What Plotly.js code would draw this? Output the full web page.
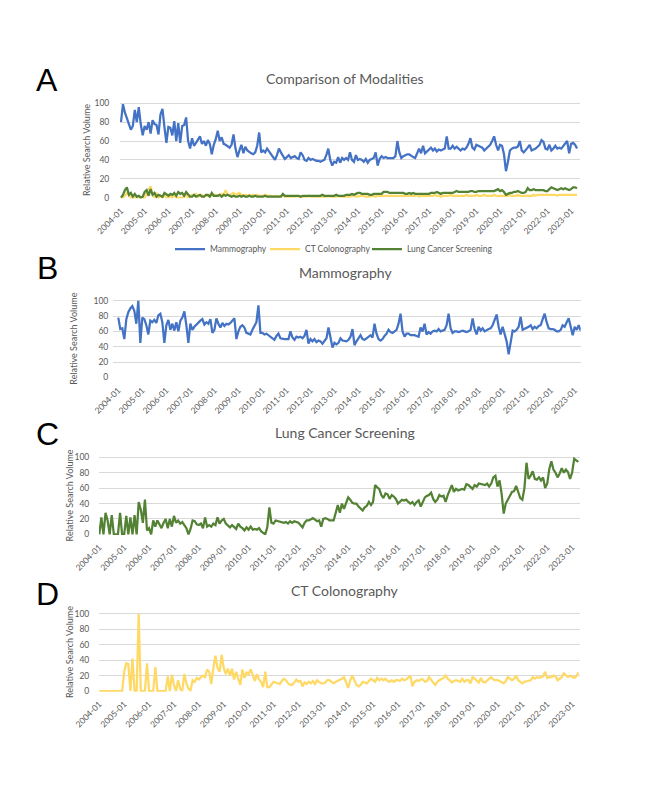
<!DOCTYPE html>
<html>
<head>
<meta charset="utf-8">
<script src="https://cdn.plot.ly/plotly-3.0.1.min.js"></script>
<style>
  html, body { margin: 0; padding: 0; background: #ffffff; }
  #chart { width: 666px; height: 799px; }
</style>
</head>
<body>
<div id="chart"></div>
<script>
// ---------------- DATA ----------------
const firstYear = 2004;
const nMonths = 232; // 2004-01 .. 2023-04

const tickLabels = ['2004-01','2005-01','2006-01','2007-01','2008-01','2009-01','2010-01',
  '2011-01','2012-01','2013-01','2014-01','2015-01','2016-01','2017-01','2018-01','2019-01',
  '2020-01','2021-01','2022-01','2023-01'];

const seriesNames = ['Mammography', 'CT Colonography', 'Lung Cancer Screening'];

// Panel A - Comparison of Modalities
const mammoA = [
  80, 99, 90, 84, 79, 72, 76, 93, 80, 96, 78, 66,
  76, 72, 80, 68, 82, 78, 77, 67, 88, 94, 75, 58,
  75, 74, 66, 81, 60, 79, 58, 76, 77, 85, 60, 52,
  63, 55, 58, 62, 65, 57, 60, 55, 61, 57, 46, 56,
  62, 71, 60, 64, 57, 56, 54, 53, 56, 67, 52, 43,
  50, 56, 47, 54, 50, 48, 47, 46, 48, 55, 69, 48,
  50, 48, 52, 49, 46, 44, 40, 45, 52, 48, 44, 41,
  43, 45, 42, 43, 44, 42, 41, 48, 45, 40, 39, 42,
  40, 41, 40, 39, 39, 38, 39, 40, 45, 52, 40, 34,
  38, 37, 43, 37, 42, 40, 42, 40, 48, 40, 38, 45,
  40, 41, 40, 38, 41, 37, 40, 41, 42, 48, 34, 41,
  44, 42, 43, 42, 42, 42, 42, 44, 60, 48, 42, 44,
  45, 46, 46, 44, 43, 42, 48, 52, 47, 55, 47, 49,
  52, 53, 50, 52, 49, 51, 50, 51, 52, 65, 52, 52,
  55, 52, 54, 52, 50, 52, 51, 53, 57, 63, 53, 51,
  56, 55, 54, 53, 50, 52, 55, 56, 60, 65, 56, 50,
  56, 55, 46, 28, 38, 50, 52, 53, 53, 54, 60, 50,
  48, 50, 53, 56, 50, 51, 52, 54, 56, 61, 59, 52,
  51, 56, 50, 52, 55, 52, 53, 52, 55, 58, 60, 47,
  57, 58, 56, 52
];
const ctA = [
  0, 0, 2, 5, 3, 0, 0, 0, 0, 0, 0, 0,
  0, 4, 8, 12, 3, 0, 5, 0, 2, 0, 3, 0,
  0, 2, 0, 3, 0, 0, 0, 0, 2, 3, 0, 2,
  3, 2, 4, 1, 2, 3, 1, 2, 2, 3, 2, 3,
  3, 2, 3, 4, 3, 8, 3, 2, 4, 5, 3, 4,
  5, 3, 2, 3, 2, 3, 2, 3, 2, 3, 2, 2,
  2, 3, 2, 2, 2, 1, 2, 2, 1, 2, 2, 1,
  1, 1, 1, 1, 1, 2, 1, 1, 1, 1, 1, 2,
  1, 1, 1, 1, 1, 1, 1, 1, 1, 2, 1, 1,
  1, 1, 2, 1, 1, 1, 1, 1, 1, 2, 2, 1,
  1, 2, 2, 2, 1, 1, 1, 2, 2, 1, 2, 2,
  2, 2, 2, 2, 2, 2, 2, 2, 2, 2, 2, 2,
  2, 2, 2, 2, 2, 2, 3, 1, 2, 2, 2, 2,
  2, 2, 2, 3, 2, 2, 1, 2, 2, 2, 2, 3,
  2, 2, 2, 2, 2, 2, 2, 3, 2, 2, 2, 2,
  3, 2, 2, 2, 3, 2, 2, 2, 2, 3, 2, 2,
  2, 2, 2, 2, 2, 3, 2, 2, 2, 3, 2, 2,
  2, 2, 2, 2, 2, 3, 2, 3, 3, 3, 3, 3,
  3, 3, 3, 3, 3, 2, 3, 3, 3, 3, 3, 3,
  3, 3, 3, 3
];
const lungA = [
  0, 3, 8, 11, 3, 5, 1, 4, 1, 2, 0, 1,
  6, 8, 2, 9, 3, 5, 1, 3, 2, 1, 5, 3,
  2, 4, 3, 5, 2, 6, 4, 5, 2, 6, 4, 1,
  1, 3, 1, 2, 3, 1, 1, 3, 3, 1, 5, 2,
  2, 2, 3, 1, 3, 2, 3, 2, 1, 2, 1, 1,
  2, 1, 2, 1, 1, 2, 1, 1, 2, 1, 1, 1,
  1, 2, 1, 1, 1, 1, 1, 1, 1, 1, 4, 2,
  2, 2, 2, 2, 2, 2, 2, 1, 2, 2, 2, 2,
  2, 2, 2, 2, 2, 2, 3, 2, 2, 2, 2, 2,
  2, 3, 2, 2, 2, 2, 3, 3, 3, 4, 3, 4,
  5, 5, 4, 4, 4, 4, 3, 3, 4, 4, 4, 4,
  4, 6, 6, 6, 5, 5, 5, 5, 5, 5, 5, 5,
  4, 4, 5, 4, 5, 4, 4, 4, 4, 4, 4, 4,
  4, 5, 5, 5, 6, 5, 4, 5, 5, 5, 5, 5,
  5, 6, 7, 6, 6, 6, 6, 6, 6, 7, 7, 6,
  6, 7, 7, 7, 7, 7, 7, 7, 7, 7, 8, 9,
  7, 8, 6, 3, 4, 5, 5, 6, 6, 7, 6, 5,
  5, 6, 10, 8, 8, 9, 8, 8, 8, 8, 8, 7,
  7, 9, 11, 10, 9, 8, 9, 10, 9, 10, 9, 8,
  9, 11, 11, 10
];

// Panel B - Mammography
const mammoB = [
  78, 63, 64, 50, 76, 85, 90, 93, 87, 70, 100, 45,
  78, 76, 68, 56, 74, 72, 75, 71, 81, 83, 72, 45,
  68, 75, 62, 70, 61, 72, 60, 74, 78, 86, 68, 45,
  70, 62, 66, 69, 71, 74, 76, 69, 72, 70, 76, 58,
  62, 77, 70, 65, 71, 67, 70, 69, 71, 74, 77, 50,
  60, 66, 68, 65, 58, 57, 56, 62, 68, 72, 94, 58,
  58, 56, 57, 55, 54, 52, 49, 54, 57, 51, 50, 50,
  50, 50, 60, 52, 49, 53, 52, 53, 51, 54, 62, 44,
  50, 47, 50, 46, 48, 47, 44, 47, 51, 65, 52, 39,
  45, 43, 45, 51, 48, 47, 47, 49, 53, 63, 42, 47,
  51, 55, 50, 49, 51, 53, 55, 52, 70, 57, 50, 48,
  50, 54, 57, 62, 59, 58, 60, 62, 70, 83, 60, 53,
  57, 57, 55, 55, 55, 54, 53, 65, 60, 70, 56, 59,
  57, 60, 61, 60, 63, 60, 61, 62, 68, 83, 64, 58,
  60, 60, 59, 60, 61, 60, 59, 60, 62, 77, 63, 56,
  66, 61, 64, 60, 62, 63, 64, 68, 75, 82, 66, 56,
  66, 57, 47, 30, 45, 61, 60, 62, 66, 79, 62, 63,
  64, 66, 68, 63, 66, 64, 67, 68, 76, 83, 72, 64,
  63, 63, 62, 60, 60, 62, 68, 66, 72, 77, 66, 55,
  66, 62, 68, 61
];

// Panel C - Lung Cancer Screening
const lungC = [
  0, 22, 0, 28, 18, 0, 25, 0, 0, 0, 28, 0,
  0, 24, 0, 22, 0, 25, 0, 42, 32, 15, 45, 5,
  8, 0, 18, 10, 18, 12, 8, 15, 20, 8, 20, 10,
  24, 15, 18, 14, 16, 12, 8, 0, 7, 18, 17, 13,
  12, 14, 8, 22, 10, 12, 10, 14, 12, 22, 14, 18,
  20, 14, 11, 9, 12, 9, 7, 14, 10, 8, 5, 9,
  6, 10, 6, 7, 6, 8, 4, 2, 0, 9, 35, 15,
  14, 18, 17, 16, 16, 15, 16, 14, 17, 15, 17, 16,
  15, 12, 9, 15, 18, 18, 20, 21, 19, 17, 18, 10,
  20, 21, 20, 18, 18, 18, 28, 38, 28, 40, 33, 40,
  48, 45, 41, 40, 40, 36, 34, 31, 35, 37, 42, 38,
  42, 64, 61, 59, 51, 47, 53, 52, 46, 51, 49, 46,
  40, 43, 45, 44, 45, 42, 40, 42, 38, 42, 44, 36,
  43, 48, 50, 51, 54, 46, 42, 45, 51, 49, 50, 42,
  51, 57, 64, 55, 59, 57, 58, 59, 58, 65, 64, 61,
  59, 64, 62, 66, 65, 64, 64, 66, 62, 66, 74, 76,
  62, 70, 53, 27, 40, 45, 50, 55, 56, 63, 55, 47,
  45, 60, 93, 72, 76, 82, 72, 71, 74, 70, 74, 60,
  66, 85, 95, 84, 80, 74, 79, 86, 80, 84, 81, 72,
  80, 98, 96, 94
];

// Panel D - CT Colonography
const ctD = [
  0, 0, 0, 0, 0, 0, 0, 0, 0, 0, 0, 0,
  25, 36, 35, 0, 42, 0, 0, 100, 0, 0, 0, 36,
  0, 0, 0, 31, 0, 0, 0, 0, 0, 19, 0, 21,
  8, 0, 14, 3, 0, 22, 10, 3, 1, 14, 12, 17,
  15, 18, 20, 18, 28, 25, 9, 30, 46, 30, 25, 47,
  30, 22, 29, 20, 29, 15, 25, 16, 8, 28, 17, 24,
  22, 28, 20, 13, 22, 15, 12, 5, 25, 5, 5, 9,
  12, 11, 10, 9, 13, 16, 14, 10, 8, 8, 11, 15,
  12, 13, 6, 11, 9, 12, 10, 13, 9, 14, 12, 10,
  10, 11, 14, 14, 12, 10, 12, 13, 14, 16, 18, 10,
  4, 14, 20, 14, 8, 6, 8, 12, 11, 10, 13, 16,
  14, 12, 17, 14, 16, 14, 16, 13, 12, 14, 12, 14,
  14, 13, 16, 14, 15, 18, 20, 6, 12, 14, 13, 15,
  15, 12, 13, 18, 14, 11, 8, 12, 14, 15, 17, 20,
  16, 14, 11, 13, 14, 13, 12, 16, 12, 14, 14, 10,
  18, 16, 13, 11, 17, 12, 11, 14, 16, 18, 15, 14,
  14, 13, 11, 10, 13, 18, 16, 14, 16, 20, 14, 12,
  10, 12, 13, 14, 14, 18, 16, 18, 17, 18, 19, 25,
  17, 18, 18, 20, 19, 14, 16, 18, 23, 20, 18, 20,
  18, 17, 19, 24
];

// month categories
const months = [];
for (let i = 0; i < nMonths; i++) {
  const y = firstYear + Math.floor(i / 12);
  const m = (i % 12) + 1;
  months.push(y + '-' + (m < 10 ? '0' + m : '' + m));
}

// ---------------- STYLE / LAYOUT ----------------
const W = 666, H = 799;
const FONT = 'Lato, "Open Sans", sans-serif';
const GREY = '#595959';
const GRID = '#D9D9D9';
const COL = { mammo: '#4472C4', ct: '#FFD966', lung: '#548235' };

const px = v => v / W;
const py = v => 1 - v / H;

// panel geometry in page pixels
const panels = [
  { xl: 120, xr: 580, xr0: -0.5, xr1: 232.5, yTop: 101.4, yBot: 198.6, ylen: 8, title: 'Comparison of Modalities', titleY: 78, letter: 'A', letterY: 80, ytX: 86 },
  { xl: 113, xr: 580.7, xr0: -2.65, xr1: 231, yTop: 299.2, yBot: 378.1, ylen: 2, title: 'Mammography', titleY: 272, letter: 'B', letterY: 268, ytX: 74 },
  { xl: 99, xr: 580, xr0: -0.15, xr1: 231.8, yTop: 455.8, yBot: 535.1, ylen: 7, title: 'Lung Cancer Screening', titleY: 432, letter: 'C', letterY: 434, ytX: 69 },
  { xl: 99, xr: 580, xr0: -0.15, xr1: 231.8, yTop: 612.4, yBot: 691.8, ylen: 7, title: 'CT Colonography', titleY: 590, letter: 'D', letterY: 594, ytX: 69 }
];

function legendAt(xLeft) {
  return {
    orientation: 'h',
    x: px(xLeft), xanchor: 'left',
    y: py(249), yanchor: 'middle',
    font: { family: FONT, size: 8.5, color: GREY },
    bgcolor: 'rgba(0,0,0,0)',
    itemwidth: 30,
    tracegroupgap: 0
  };
}

const layout = {
  width: W, height: H,
  margin: { l: 0, r: 0, t: 0, b: 0 },
  paper_bgcolor: '#ffffff',
  plot_bgcolor: '#ffffff',
  font: { family: FONT, color: GREY, size: 9 },
  showlegend: true,
  legend: legendAt(170),
  legend2: legendAt(265),
  legend3: legendAt(367),
  annotations: [],
  shapes: []
};

panels.forEach((p, i) => {
  const k = i === 0 ? '' : String(i + 1);
  layout['xaxis' + k] = {
    domain: [px(p.xl), px(p.xr)],
    anchor: 'y' + k,
    type: 'category',
    range: [p.xr0, p.xr1],
    tickmode: 'array',
    tickvals: tickLabels,
    ticktext: tickLabels,
    tickangle: -45,
    ticks: 'outside', ticklen: 3, tickcolor: 'rgba(0,0,0,0)',
    tickfont: { family: FONT, size: 8.5, color: GREY },
    showgrid: false, zeroline: false, showline: false,
    fixedrange: true
  };
  layout['yaxis' + k] = {
    domain: [py(p.yBot), py(p.yTop)],
    anchor: 'x' + k,
    range: [-1, 102],
    tickmode: 'array',
    tickvals: [0, 20, 40, 60, 80, 100],
    ticks: 'outside', ticklen: p.ylen, tickcolor: 'rgba(0,0,0,0)',
    tickfont: { family: FONT, size: 8.5, color: GREY },
    showgrid: true, gridcolor: GRID, gridwidth: 1,
    zeroline: false, showline: false,
    fixedrange: true
  };
  layout.annotations.push({
    xref: 'paper', yref: 'paper', x: px(345), y: py(p.titleY),
    xanchor: 'center', yanchor: 'middle', showarrow: false,
    text: p.title, font: { family: FONT, size: 14, color: GREY }
  });
  layout.annotations.push({
    xref: 'paper', yref: 'paper', x: px(47), y: py(p.letterY),
    xanchor: 'center', yanchor: 'middle', showarrow: false,
    text: p.letter, font: { family: '"Liberation Sans", Arial, sans-serif', size: 32, color: '#000000' }
  });
  layout.annotations.push({
    xref: 'paper', yref: 'paper', x: px(p.ytX), y: py((p.yTop + p.yBot) / 2),
    xanchor: 'center', yanchor: 'middle', showarrow: false, textangle: -90,
    text: 'Relative Search Volume', font: { family: FONT, size: 9, color: GREY }
  });
});

function line(y, color, xa, ya, name, legend, legendId) {
  const t = {
    type: 'scatter', mode: 'lines',
    x: months, y: y,
    xaxis: xa, yaxis: ya,
    name: name, showlegend: legend,
    line: { color: color, width: 2.25, shape: 'linear' },
    hoverinfo: 'skip'
  };
  if (legendId) t.legend = legendId;
  return t;
}

const data = [
  line(mammoA, COL.mammo, 'x', 'y', seriesNames[0], true, 'legend'),
  line(ctA, COL.ct, 'x', 'y', seriesNames[1], true, 'legend2'),
  line(lungA, COL.lung, 'x', 'y', seriesNames[2], true, 'legend3'),
  line(mammoB, COL.mammo, 'x2', 'y2', seriesNames[0], false),
  line(lungC, COL.lung, 'x3', 'y3', seriesNames[2], false),
  line(ctD, COL.ct, 'x4', 'y4', seriesNames[1], false)
];

Plotly.newPlot('chart', data, layout, { staticPlot: true, displayModeBar: false });
</script>
</body>
</html>
